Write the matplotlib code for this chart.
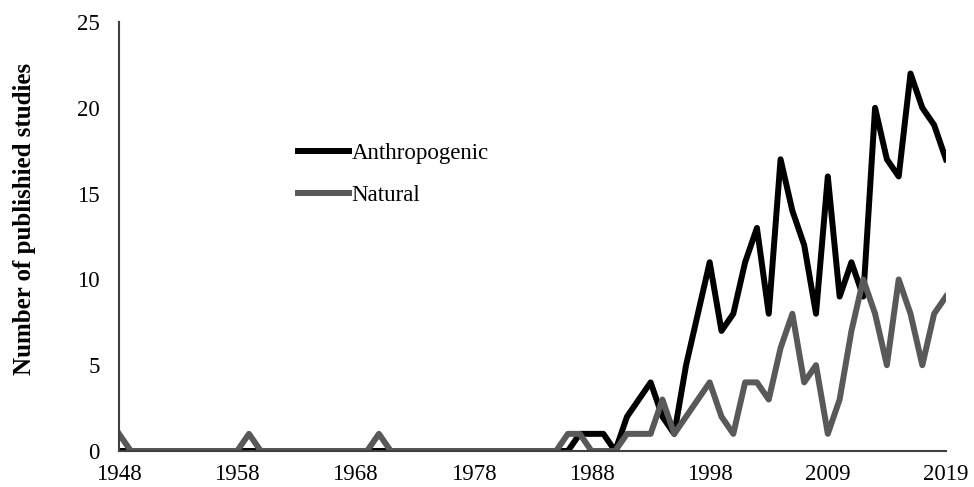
import matplotlib
matplotlib.use("Agg")
import matplotlib.pyplot as plt
import numpy as np

# category years (one year absent between 1998 and 2009 on the original axis)
years = list(range(1948, 1999)) + list(range(2000, 2020))

anthropogenic = [0] * 39 + [
    1, 1, 1, 0, 2, 3, 4, 2, 1, 5,
    8, 11, 7, 8, 11, 13, 8, 17, 14, 12,
    8, 16, 9, 11, 9, 20, 17, 16, 22, 20,
    19, 17,
]

natural = [
    1, 0, 0, 0, 0, 0, 0, 0, 0, 0,
    0, 1, 0, 0, 0, 0, 0, 0, 0, 0,
    0, 0, 1, 0, 0, 0, 0, 0, 0, 0,
    0, 0, 0, 0, 0, 0, 0, 0, 1, 1,
    0, 0, 0, 1, 1, 1, 3, 1, 2, 3,
    4, 2, 1, 4, 4, 3, 6, 8, 4, 5,
    1, 3, 7, 10, 8, 5, 10, 8, 5, 8,
    9,
]

tick_idx = [0, 10, 20, 30, 40, 50, 60, 70]

plt.rcParams["font.family"] = ["Liberation Serif", "DejaVu Serif"]

fig = plt.figure(figsize=(9.74, 4.87), dpi=100)
ax = fig.add_axes([0.1222, 0.0739, 0.849, 0.8809])

x = np.arange(len(years))
ax.plot(x, anthropogenic, color="#000000", lw=4.3, label="Anthropogenic")
ax.plot(x, natural, color="#595959", lw=4.3, label="Natural")

ax.set_xlim(0, len(years) - 1)
ax.set_ylim(0, 25)
ax.set_yticks([0, 5, 10, 15, 20, 25])
ax.set_xticks(tick_idx)
ax.set_xticklabels([str(years[i]) for i in tick_idx])
ax.tick_params(axis="both", length=0, labelsize=16.5, colors="#000000")
ax.tick_params(axis="y", pad=14)
ax.tick_params(axis="x", pad=9)

for side in ("top", "right"):
    ax.spines[side].set_visible(False)
for side in ("left", "bottom"):
    ax.spines[side].set_color("#404040")
    ax.spines[side].set_linewidth(1.5)

ax.set_ylabel("Number of publishied studies", fontsize=18, fontweight="bold")
ax.yaxis.set_label_coords(-0.101, 0.54)

ax.legend(loc="center left", bbox_to_anchor=(0.2962, 0.6412),
          bbox_transform=fig.transFigure, frameon=False, fontsize=16.5,
          handlelength=2.25, handletextpad=0.1, labelspacing=0.92,
          borderaxespad=0)

fig.savefig("out.png", dpi=100)
